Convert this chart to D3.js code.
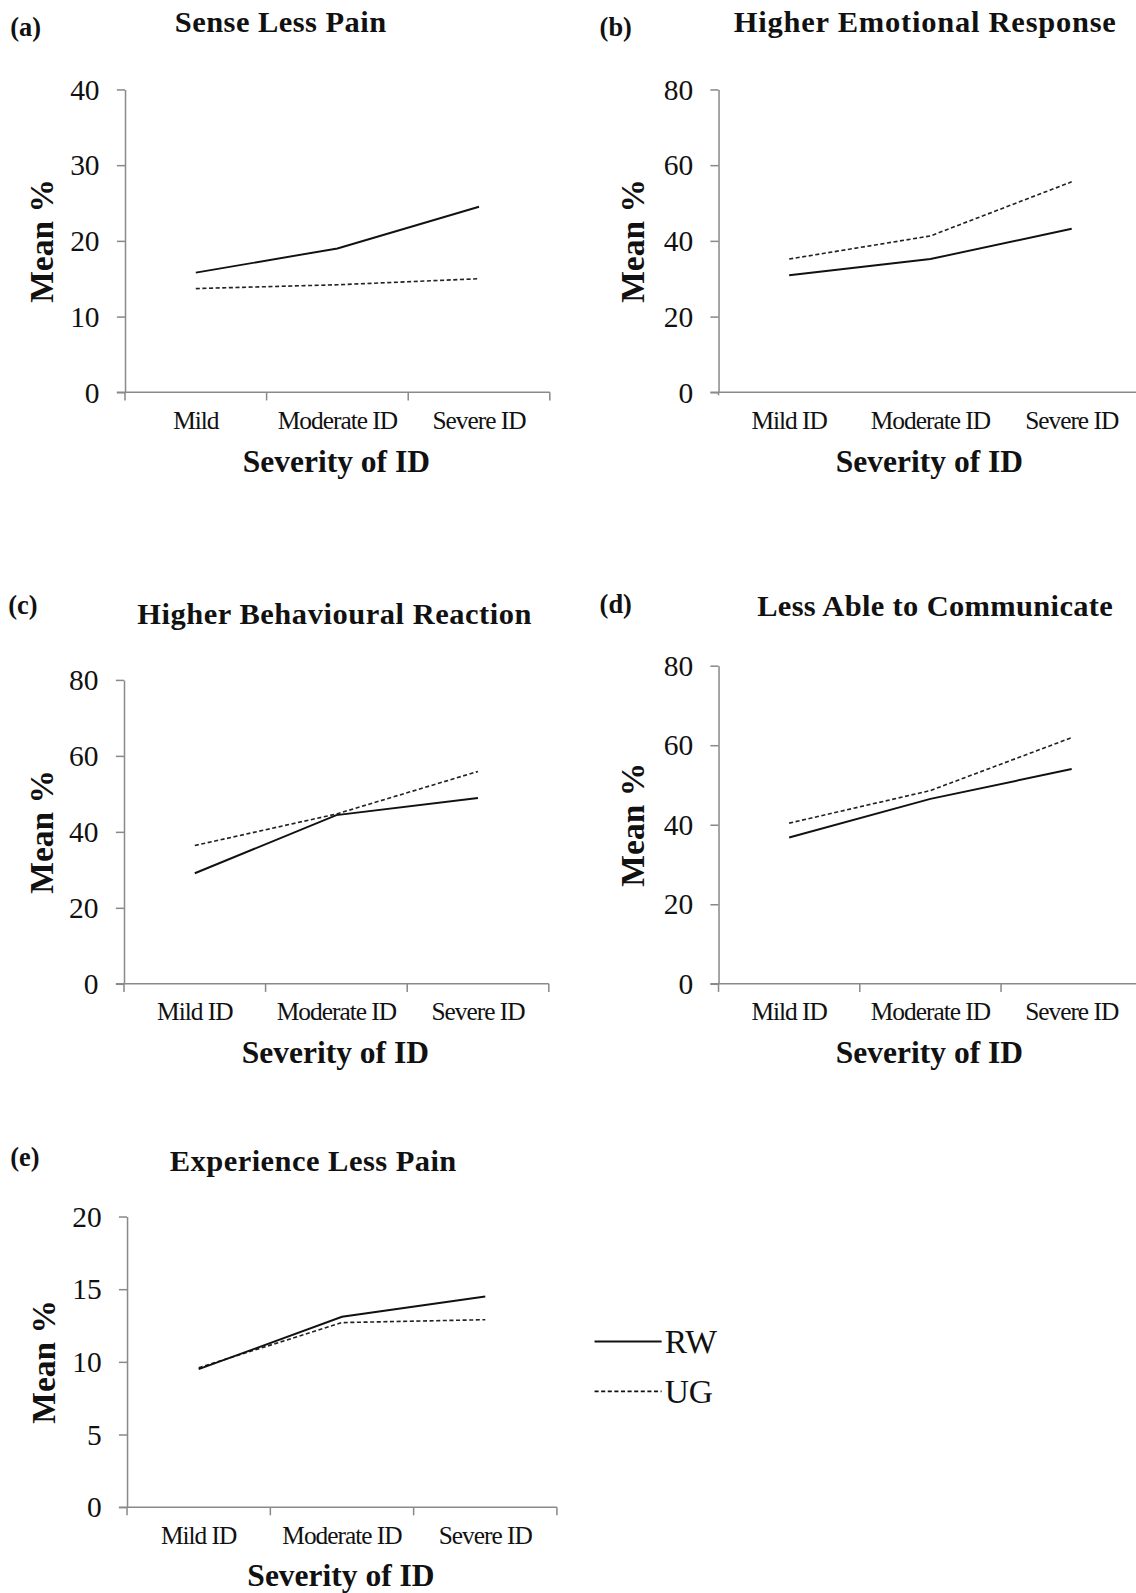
<!DOCTYPE html>
<html>
<head>
<meta charset="utf-8">
<script src="https://cdn.jsdelivr.net/npm/d3@7"></script>
<style>
	body { margin: 0; background: #fff; }
	text { font-family: "Liberation Serif", "Times New Roman", serif; fill: #111; }
	.ptitle, .plabel, .axtitle { font-weight: bold; }
	.axis path, .axis line { stroke: #8a8a8a; stroke-width: 1.5px; }
</style>
</head>
<body>
<div id="chart"></div>
<script>
// categorias do eixo x
var catsA = ["Mild", "Moderate ID", "Severe ID"];
var cats = ["Mild ID", "Moderate ID", "Severe ID"];
var series = ["RW", "UG"];

// valores (Mean %)
var lessPainRW = [15.8, 19.0, 24.5];
var lessPainUG = [13.7, 14.2, 15.0];
var emotionalRW = [30.9, 35.2, 43.2];
var emotionalUG = [35.2, 41.3, 55.6];
var behaviouralRW = [29.1, 44.4, 48.9];
var behaviouralUG = [36.4, 44.7, 55.9];
var communicateRW = [36.8, 46.5, 54.0];
var communicateUG = [40.4, 48.6, 61.9];
var experienceRW = [9.5, 13.1, 14.5];
var experienceUG = [9.6, 12.7, 12.9];

var ticks40 = [0, 10, 20, 30, 40];
var ticks80 = [0, 20, 40, 60, 80];
var ticks20 = [0, 5, 10, 15, 20];

// layout medido sobre a imagem reduzida; o grupo raiz é ampliado depois
var panels = [
	{tag:"(a)", title:"Sense Less Pain", cats:catsA, rw:lessPainRW, ug:lessPainUG, ticks:ticks40,
		x0:123, x1:541, top:88, bottom:386, tagX:10, tagY:35, titleX:276, titleY:31, titleLen:208, meanX:41, xTicks:true},
	{tag:"(b)", title:"Higher Emotional Response", cats:cats, rw:emotionalRW, ug:emotionalUG, ticks:ticks80,
		x0:707, x1:1124, top:88, bottom:386, tagX:590, tagY:35, titleX:910, titleY:31, titleLen:376, meanX:623, xTicks:false},
	{tag:"(c)", title:"Higher Behavioural Reaction", cats:cats, rw:behaviouralRW, ug:behaviouralUG, ticks:ticks80,
		x0:122, x1:540, top:669, bottom:968, tagX:8, tagY:604, titleX:329, titleY:614, titleLen:388, meanX:41, xTicks:true},
	{tag:"(d)", title:"Less Able to Communicate", cats:cats, rw:communicateRW, ug:communicateUG, ticks:ticks80,
		x0:707, x1:1124, top:655, bottom:968, tagX:590, tagY:603, titleX:920, titleY:606, titleLen:350, meanX:623, xTicks:true, noEnd:true},
	{tag:"(e)", title:"Experience Less Pain", cats:cats, rw:experienceRW, ug:experienceUG, ticks:ticks20,
		x0:125, x1:548, top:1197, bottom:1483, tagX:10, tagY:1147, titleX:308, titleY:1152, titleLen:282, meanX:43, xTicks:true}
];

var W = 1136, H = 1593, k = 1.0163;
var svg = d3.select("#chart").append("svg").attr("width", W).attr("height", H);
var root = svg.append("g").attr("transform", "scale(" + k + ")");

panels.forEach(function(p){
	var g = root.append("g");
	var x = d3.scaleBand().domain(p.cats).range([p.x0, p.x1]);
	var y = d3.scaleLinear().domain([p.ticks[0], p.ticks[p.ticks.length-1]]).range([p.bottom, p.top]);

	g.append("text").attr("class","plabel").attr("x", p.tagX).attr("y", p.tagY)
		.style("font-size","26px").text(p.tag);
	g.append("text").attr("class","ptitle").attr("x", p.titleX).attr("y", p.titleY)
		.attr("text-anchor","middle").style("font-size","30px")
		.attr("textLength", p.titleLen).attr("lengthAdjust","spacing").text(p.title);

	// eixo y
	var yAxis = d3.axisLeft(y).tickValues(p.ticks).tickSize(8).tickSizeOuter(0).tickPadding(17);
	var gy = g.append("g").attr("class","axis").attr("transform","translate("+p.x0+",0)").call(yAxis);
	gy.selectAll("text").style("font-size","29px").attr("dy","0.33em");

	// eixo x (linha + ticks nas fronteiras das categorias)
	var gx = g.append("g").attr("class","axis");
	gx.append("line").attr("x1", p.x0 - 8).attr("x2", p.x1).attr("y1", p.bottom).attr("y2", p.bottom);
	if(p.xTicks){
		var bounds = p.cats.map(function(c){ return x(c); });
		if(!p.noEnd) bounds.push(p.x1);
		gx.selectAll(".xt").data(bounds).enter().append("line")
			.attr("x1", function(d){ return d; }).attr("x2", function(d){ return d; })
			.attr("y1", p.bottom).attr("y2", p.bottom + 8);
	} else {
		gx.append("line").attr("x1", p.x0).attr("x2", p.x0).attr("y1", p.bottom).attr("y2", p.bottom + 3);
	}
	g.selectAll(".xl").data(p.cats).enter().append("text")
		.attr("x", function(d){ return x(d) + x.bandwidth()/2; })
		.attr("y", p.bottom + 36)
		.attr("text-anchor","middle")
		.style("font-size","25px").style("letter-spacing","-1px")
		.text(function(d){ return d; });

	g.append("text").attr("class","axtitle")
		.attr("x", (p.x0 + p.x1)/2 - 1).attr("y", p.bottom + 78)
		.attr("text-anchor","middle").style("font-size","31px").text("Severity of ID");
	g.append("text").attr("class","axtitle")
		.attr("transform","translate("+(p.meanX + 11)+","+((p.top + p.bottom)/2)+") rotate(-90)")
		.attr("text-anchor","middle").style("font-size","33px").text("Mean %");

	var line = d3.line()
		.x(function(d,i){ return x(p.cats[i]) + x.bandwidth()/2; })
		.y(function(d){ return y(d); });

	g.append("path").datum(p.ug).attr("d", line)
		.attr("fill","none").attr("stroke","#222").attr("stroke-width",1.6)
		.attr("stroke-dasharray","4,2.5");
	g.append("path").datum(p.rw).attr("d", line)
		.attr("fill","none").attr("stroke","#111").attr("stroke-width",1.9);
});

// legenda
var leg = root.append("g").attr("transform","translate(585,1320)");
series.forEach(function(s, i){
	var row = leg.append("g").attr("transform","translate(0,"+(i*49)+")");
	row.append("line").attr("x1",0).attr("x2",66).attr("y1",0).attr("y2",0)
		.attr("stroke", "#111").attr("stroke-width", i === 0 ? 1.9 : 1.6)
		.attr("stroke-dasharray", i === 0 ? null : "4,2.5");
	row.append("text").attr("x",69).attr("y",11).style("font-size","33px").text(s);
});
</script>
</body>
</html>
